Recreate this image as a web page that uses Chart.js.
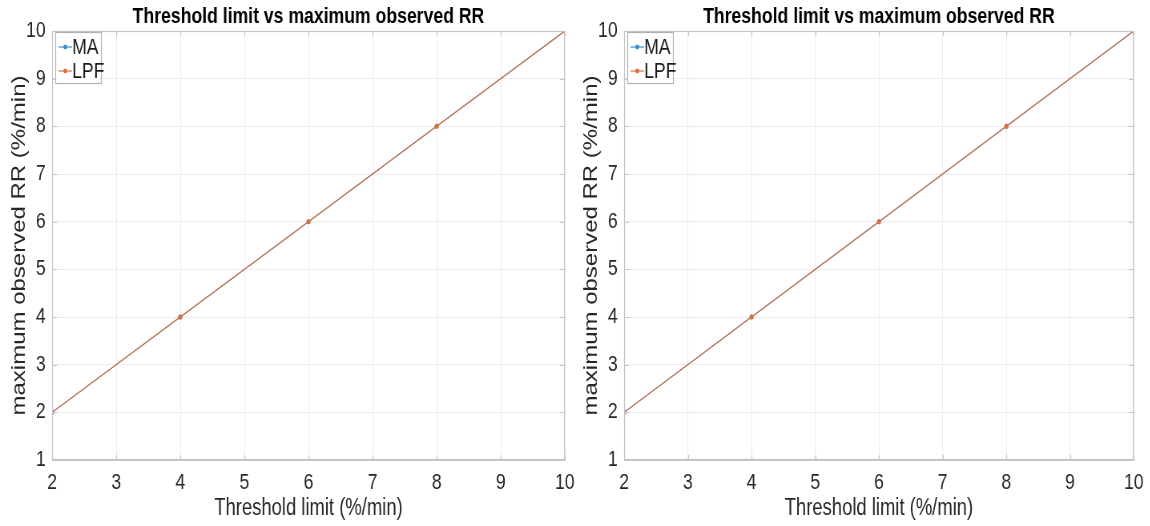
<!DOCTYPE html>
<html lang="en">
<head>
    <meta charset="UTF-8">
    <title>Threshold limit vs maximum observed RR</title>
    <script src="https://cdn.jsdelivr.net/npm/chart.js@4.4.1/dist/chart.umd.min.js"></script>
    <style>
        body {
            margin: 0;
            background: #ffffff;
            overflow: hidden;
        }

        .panel {
            position: absolute;
            top: 0;
            height: 526px;
            transform: scaleX(0.8);
            transform-origin: 0 0;
        }

        /* panels are laid out wide and squeezed horizontally to 575px / 578px */
        #panelLeft { left: 0; width: 718.75px; }
        #panelRight { left: 572px; width: 722.5px; }
    </style>
</head>
<body>
    <div class="panel" id="panelLeft"><canvas id="graficaA"></canvas></div>
    <div class="panel" id="panelRight"><canvas id="graficaB"></canvas></div>

    <script>
        // threshold limits (%/min) and the max RR observed for each filter
        const thresholds = [2, 4, 6, 8, 10];
        const maValues = [2, 4, 6, 8, 10];
        const lpfValues = [2, 4, 6, 8, 10];
        const seriesNames = ["MA", "LPF"];
        const seriesColors = ["#3C8FC8", "#D9703F"];
        const xTicks = [2, 3, 4, 5, 6, 7, 8, 9, 10];
        const yTicks = [1, 2, 3, 4, 5, 6, 7, 8, 9, 10];
        const titulo = "Threshold limit vs maximum observed RR";

        const fuente = "'Liberation Sans', Arial, Helvetica, sans-serif";

        // title over the plot area, box around the axes, inward ticks and legend
        const matlabAxes = {
            id: "matlabAxes",
            afterDraw(chart) {
                const ctx = chart.ctx;
                const a = chart.chartArea;
                const xs = chart.scales.x;
                const ys = chart.scales.y;

                ctx.save();
                ctx.fillStyle = "#000000";
                ctx.font = "bold 22px " + fuente;
                ctx.textAlign = "center";
                ctx.textBaseline = "alphabetic";
                ctx.fillText(titulo, (a.left + a.right) / 2, 22.5);

                ctx.strokeStyle = "#c4c4c4";
                ctx.lineWidth = 1.2;
                ctx.strokeRect(a.left + 0.5, a.top + 0.5, a.right - a.left - 1, a.bottom - a.top - 1);

                ctx.beginPath();
                xTicks.forEach(v => {
                    const px = Math.round(xs.getPixelForValue(v)) + 0.5;
                    ctx.moveTo(px, a.bottom); ctx.lineTo(px, a.bottom - 5);
                    ctx.moveTo(px, a.top); ctx.lineTo(px, a.top + 5);
                });
                yTicks.forEach(v => {
                    const py = Math.round(ys.getPixelForValue(v)) + 0.5;
                    ctx.moveTo(a.left, py); ctx.lineTo(a.left + 6, py);
                    ctx.moveTo(a.right, py); ctx.lineTo(a.right - 6, py);
                });
                ctx.stroke();

                // legend
                const lx = a.left + 4, ly = a.top + 1, lw = 57, lh = 51;
                ctx.fillStyle = "#ffffff";
                ctx.fillRect(lx, ly, lw, lh);
                ctx.strokeStyle = "#b0b0b0";
                ctx.lineWidth = 1.2;
                ctx.strokeRect(lx + 0.5, ly + 0.5, lw, lh);
                ctx.font = "22px " + fuente;
                ctx.textAlign = "left";
                ctx.textBaseline = "middle";
                chart.data.datasets.forEach((ds, i) => {
                    const cy = ly + 15 + i * 24;
                    ctx.strokeStyle = ds.borderColor;
                    ctx.lineWidth = 1.2;
                    ctx.beginPath();
                    ctx.moveTo(lx + 4, cy); ctx.lineTo(lx + 21, cy);
                    ctx.stroke();
                    ctx.fillStyle = ds.borderColor;
                    ctx.beginPath();
                    ctx.arc(lx + 12.5, cy, 2.4, 0, Math.PI * 2);
                    ctx.fill();
                    ctx.fillStyle = "#1a1a1a";
                    ctx.fillText(ds.label, lx + 21, cy + 1);
                });
                ctx.restore();
            }
        };

        function crearGrafica(canvasId, padRight) {
            const datasets = [maValues, lpfValues].map((vals, i) => ({
                label: seriesNames[i],
                data: thresholds.map((t, k) => ({ x: t, y: vals[k] })),
                borderColor: seriesColors[i],
                backgroundColor: seriesColors[i],
                borderWidth: 1.1,
                pointRadius: 2.5,
                pointHoverRadius: 2.5,
                pointBorderWidth: 0,
                showLine: true,
                tension: 0,
                order: seriesNames.length - i   // LPF drawn last, on top of MA
            }));

            new Chart(document.getElementById(canvasId), {
                type: "scatter",
                data: { datasets },
                options: {
                    responsive: true,
                    maintainAspectRatio: false,
                    animation: false,
                    layout: { padding: { left: 0, right: padRight, top: 31, bottom: 0 } },
                    plugins: {
                        legend: { display: false },
                        tooltip: { enabled: false },
                        title: { display: false }
                    },
                    scales: {
                        x: {
                            type: "linear",
                            min: 2,
                            max: 10,
                            afterBuildTicks: s => { s.ticks = xTicks.map(v => ({ value: v })); },
                            afterFit: s => {
                                s.height = 66;
                                s.paddingLeft = 0;
                                s.paddingRight = 0;
                            },
                            grid: { color: "#ececec", drawTicks: false },
                            border: { color: "#c4c4c4" },
                            ticks: {
                                color: "#262626",
                                padding: 10,
                                maxRotation: 0,
                                font: { family: fuente, size: 22 }
                            },
                            title: {
                                display: true,
                                text: "Threshold limit (%/min)",
                                color: "#262626",
                                font: { family: fuente, size: 23, lineHeight: 1.2 },
                                padding: { top: 0, bottom: 4 }
                            }
                        },
                        y: {
                            type: "linear",
                            min: 1,
                            max: 10,
                            afterBuildTicks: s => { s.ticks = yTicks.map(v => ({ value: v })); },
                            afterFit: s => {
                                s.width = 65;
                                s.paddingTop = 0;
                                s.paddingBottom = 0;
                            },
                            grid: { color: "#ececec", drawTicks: false },
                            border: { color: "#c4c4c4" },
                            ticks: {
                                color: "#262626",
                                padding: 8,
                                font: { family: fuente, size: 22 }
                            },
                            title: {
                                display: true,
                                text: "maximum observed RR (%/min)",
                                color: "#262626",
                                font: { family: fuente, size: 24, lineHeight: 1.2 },
                                padding: { top: 10, bottom: 0 }
                            }
                        }
                    }
                },
                plugins: [matlabAxes]
            });
        }

        crearGrafica("graficaA", 13.75);
        crearGrafica("graficaB", 21.25);
    </script>
</body>
</html>
